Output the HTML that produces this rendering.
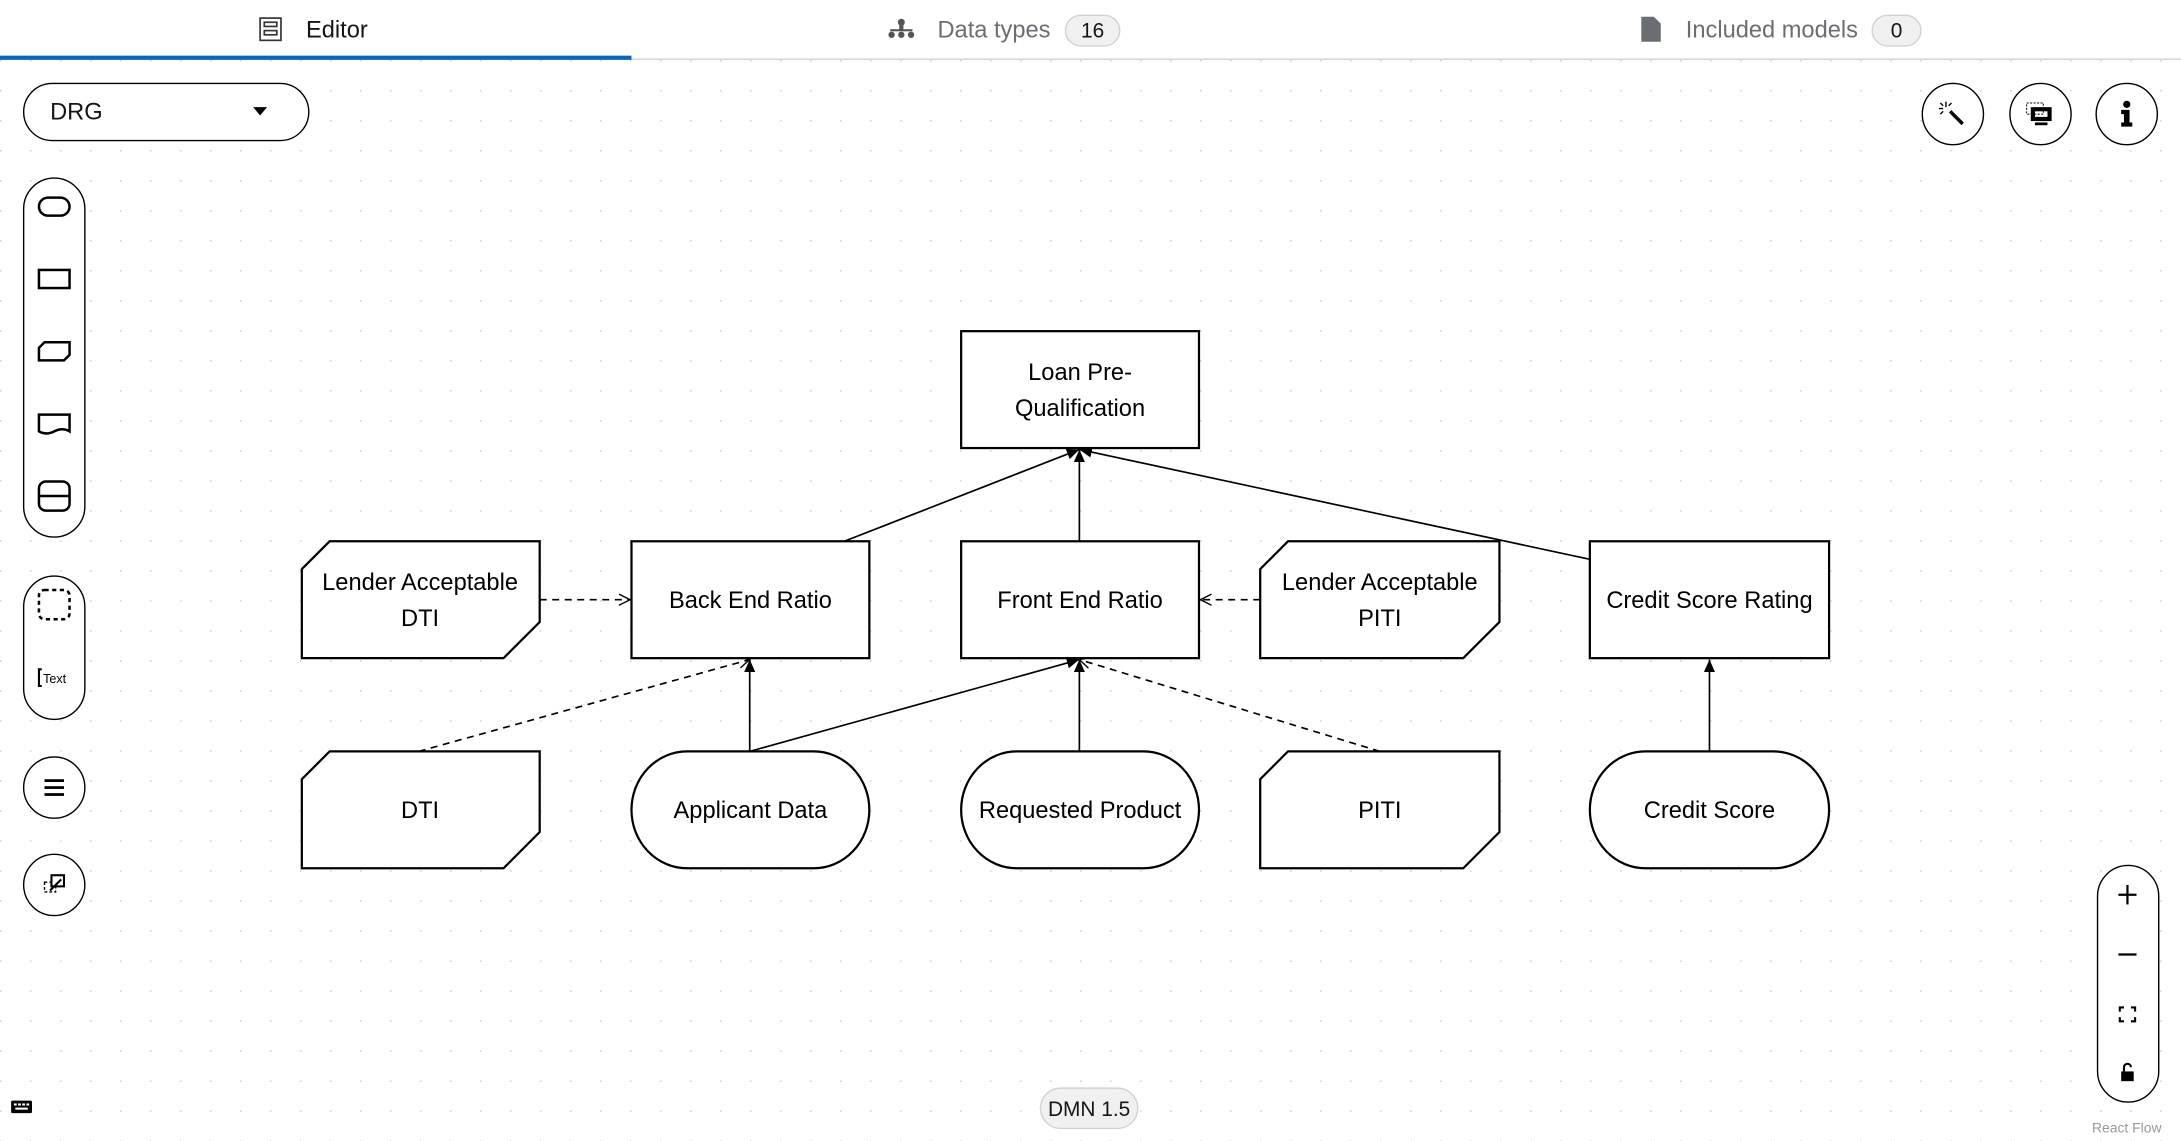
<!DOCTYPE html>
<html><head><meta charset="utf-8"><style>
html,body{margin:0;padding:0;background:#fff;overflow:hidden}
svg{display:block}
text{font-family:"Liberation Sans",sans-serif}
</style></head><body>
<svg width="2181" height="1141" viewBox="0 0 1568 820" preserveAspectRatio="none" xmlns="http://www.w3.org/2000/svg">
<defs>
<pattern id="dots" x="0" y="0" width="21.57" height="21.57" patternUnits="userSpaceOnUse">
<rect x="0" y="0" width="1" height="1" fill="#c8c8c8"/>
</pattern>
<marker id="af" markerWidth="10" markerHeight="10" refX="9" refY="5" orient="auto" markerUnits="userSpaceOnUse"><path d="M0,1 L9,5 L0,9 z" fill="#000"/></marker>
<marker id="ao" markerWidth="10" markerHeight="10" refX="9" refY="5" orient="auto" markerUnits="userSpaceOnUse"><path d="M1,1 L9,5 L1,9" fill="none" stroke="#000" stroke-width="1"/></marker>
</defs>
<rect width="1568" height="820" fill="#fff"/>
<rect y="43" width="1568" height="777" fill="url(#dots)"/>
<!-- tabs -->
<line x1="0" y1="42.5" x2="1568" y2="42.5" stroke="#d2d2d2" stroke-width="1"/>
<rect x="0" y="40" width="454" height="3" fill="#0066cc"/>
<g fill="none" stroke="#333" stroke-width="1.2"><rect x="187" y="13" width="15" height="16"/><rect x="190" y="16" width="9" height="3"/><rect x="190" y="22" width="9" height="3"/></g>
<text x="220" y="27" font-size="17" fill="#151515">Editor</text>
<g fill="#555"><circle cx="648" cy="16" r="2.5"/><rect x="646.5" y="17" width="3" height="5"/><rect x="640" y="21" width="16" height="1.5"/><circle cx="641" cy="25" r="2.3"/><circle cx="648" cy="25" r="2.3"/><circle cx="655" cy="25" r="2.3"/></g>
<text x="674" y="27" font-size="17" fill="#6a6e73">Data types</text>
<rect x="766" y="11" width="39" height="22" rx="11" fill="#f0f0f0" stroke="#d2d2d2"/>
<text x="785.5" y="27" font-size="15" fill="#151515" text-anchor="middle">16</text>
<path d="M1180,12 h9 l5,5 v13 h-14 z" fill="#6a6e73"/>
<text x="1212" y="27" font-size="17" fill="#6a6e73">Included models</text>
<rect x="1346" y="11" width="35" height="22" rx="11" fill="#f0f0f0" stroke="#d2d2d2"/>
<text x="1363.5" y="27" font-size="15" fill="#151515" text-anchor="middle">0</text>
<!-- DRG -->
<rect x="17" y="60" width="205" height="41" rx="20.5" fill="#fff" stroke="#000"/>
<text x="36" y="86" font-size="17" fill="#151515">DRG</text>
<path d="M182,77 h10 l-5,6 z" fill="#000"/>
<!-- left palette -->
<rect x="17" y="128" width="44" height="258" rx="22" fill="#fff" stroke="#000"/>
<g fill="none" stroke="#000" stroke-width="1.8">
<rect x="28" y="142" width="22" height="13" rx="6.5"/>
<rect x="28" y="194" width="22" height="13"/>
<path d="M32,246 h18 v9 l-4,4 h-18 v-9 z"/>
<path d="M28,298 h22 v12 q-5,-3 -11,0 t-11,0 z"/>
<rect x="28" y="346" width="22" height="21" rx="5"/><line x1="28" y1="356.5" x2="50" y2="356.5"/>
</g>
<rect x="17" y="414" width="44" height="103" rx="22" fill="#fff" stroke="#000"/>
<rect x="28" y="424" width="22" height="21" rx="4" fill="none" stroke="#000" stroke-width="1.8" stroke-dasharray="3,2.5"/>
<path d="M30,481 h-2 v12 h2" fill="none" stroke="#000" stroke-width="1.5"/>
<text x="31" y="491" font-size="9" fill="#000">Text</text>
<circle cx="39" cy="566" r="22" fill="#fff" stroke="#000"/>
<g fill="#000"><rect x="32" y="560" width="14" height="2"/><rect x="32" y="565" width="14" height="2"/><rect x="32" y="570" width="14" height="2"/></g>
<circle cx="39" cy="636" r="22" fill="#fff" stroke="#000"/>
<rect x="32" y="634" width="8" height="7" fill="none" stroke="#000" stroke-dasharray="2,1.5"/>
<rect x="37" y="629" width="9" height="8" fill="#fff" stroke="#000" stroke-width="1.5"/>
<line x1="36" y1="640" x2="44" y2="632" stroke="#000" stroke-width="1.5"/>
<!-- right top buttons -->
<circle cx="1404" cy="82" r="22" fill="#fff" stroke="#000"/>
<line x1="1402" y1="80" x2="1411" y2="89" stroke="#000" stroke-width="2.5"/>
<g stroke="#000" stroke-width="1"><line x1="1399" y1="73" x2="1399" y2="77"/><line x1="1394" y1="78" x2="1397" y2="78"/><line x1="1395" y1="74" x2="1397" y2="76"/><line x1="1403" y1="74" x2="1401" y2="76"/><line x1="1395" y1="82" x2="1397" y2="80"/></g>
<circle cx="1467" cy="82" r="22" fill="#fff" stroke="#000"/>
<rect x="1460" y="77" width="15" height="10" fill="#000"/><rect x="1463" y="80" width="9" height="4" fill="#fff"/><rect x="1463" y="88" width="9" height="2" fill="#000"/>
<rect x="1457" y="74" width="12" height="8" fill="none" stroke="#000" stroke-width="0.7" stroke-dasharray="1.5,1"/>
<circle cx="1529" cy="82" r="22" fill="#fff" stroke="#000"/>
<circle cx="1529" cy="75" r="2.6" fill="#000"/>
<path d="M1525,79 h6 v9 h2 v3 h-8 v-3 h2 v-6 h-2 z" fill="#000"/>
<!-- zoom controls -->
<rect x="1508" y="622" width="44" height="170" rx="22" fill="#fff" stroke="#000"/>
<g stroke="#000" stroke-width="1.6"><line x1="1523" y1="643" x2="1536" y2="643"/><line x1="1529.5" y1="636" x2="1529.5" y2="650"/><line x1="1523" y1="686" x2="1536" y2="686"/></g>
<path d="M1524,727 v-3 h3 M1532,724 h3 v3 M1535,731 v3 h-3 M1527,734 h-3 v-3" fill="none" stroke="#000" stroke-width="1.5"/>
<rect x="1525" y="770" width="9" height="7" fill="#000"/><path d="M1527,770 v-3 a2.5,2.5 0 0 1 5,0" fill="none" stroke="#000" stroke-width="1.5"/>
<text x="1504" y="814" font-size="10" fill="#999">React Flow</text>
<!-- keyboard -->
<rect x="8" y="791" width="15" height="9" rx="1" fill="#000"/>
<g fill="#fff"><rect x="10" y="793" width="2" height="1.5"/><rect x="13" y="793" width="2" height="1.5"/><rect x="16" y="793" width="2" height="1.5"/><rect x="19" y="793" width="2" height="1.5"/><rect x="11" y="796" width="9" height="1.5"/></g>
<!-- DMN badge -->
<rect x="748" y="782" width="70" height="29" rx="14.5" fill="#f0f0f0" stroke="#d2d2d2"/>
<text x="783" y="802" font-size="15" fill="#151515" text-anchor="middle">DMN 1.5</text>
<!-- edges -->
<g stroke="#000" stroke-width="1.2" fill="none">
<line x1="607" y1="389" x2="776" y2="323" marker-end="url(#af)"/>
<line x1="776" y1="389" x2="776" y2="323" marker-end="url(#af)"/>
<line x1="1143" y1="402" x2="776" y2="323" marker-end="url(#af)"/>
<line x1="539" y1="540" x2="539" y2="474" marker-end="url(#af)"/>
<line x1="539" y1="540" x2="776" y2="474" marker-end="url(#af)"/>
<line x1="776" y1="540" x2="776" y2="474" marker-end="url(#af)"/>
<line x1="1229" y1="540" x2="1229" y2="474" marker-end="url(#af)"/>
<g stroke-dasharray="5,4">
<line x1="301" y1="540" x2="539" y2="474" marker-end="url(#ao)"/>
<line x1="992" y1="540" x2="776" y2="474" marker-end="url(#ao)"/>
<line x1="388" y1="431" x2="453" y2="431" marker-end="url(#ao)"/>
<line x1="906" y1="431" x2="863" y2="431" marker-end="url(#ao)"/>
</g>
</g>
<!-- nodes -->
<g fill="#fff" stroke="#000" stroke-width="1.6">
<rect x="691" y="238" width="171" height="84"/>
<rect x="454" y="389" width="171" height="84"/>
<rect x="691" y="389" width="171" height="84"/>
<rect x="1143" y="389" width="172" height="84"/>
<path d="M237,389 H388 V447 L362,473 H217 V409 Z"/>
<path d="M926,389 H1078 V447 L1052,473 H906 V409 Z"/>
<path d="M237,540 H388 V598 L362,624 H217 V560 Z"/>
<path d="M926,540 H1078 V598 L1052,624 H906 V560 Z"/>
<path d="M494,540 H585 A40,42 0 0 1 585,624 H494 A40,42 0 0 1 494,540 Z"/>
<path d="M731,540 H822 A40,42 0 0 1 822,624 H731 A40,42 0 0 1 731,540 Z"/>
<path d="M1183,540 H1275 A40,42 0 0 1 1275,624 H1183 A40,42 0 0 1 1183,540 Z"/>
</g>
<g font-size="17" fill="#000" text-anchor="middle">
<text x="776.5" y="273">Loan Pre-</text><text x="776.5" y="299">Qualification</text>
<text x="539.5" y="437">Back End Ratio</text>
<text x="776.5" y="437">Front End Ratio</text>
<text x="1229" y="437">Credit Score Rating</text>
<text x="302" y="424">Lender Acceptable</text><text x="302" y="450">DTI</text>
<text x="992" y="424">Lender Acceptable</text><text x="992" y="450">PITI</text>
<text x="302" y="588">DTI</text>
<text x="539.5" y="588">Applicant Data</text>
<text x="776.5" y="588">Requested Product</text>
<text x="992" y="588">PITI</text>
<text x="1229" y="588">Credit Score</text>
</g>
</svg>
</body></html>
